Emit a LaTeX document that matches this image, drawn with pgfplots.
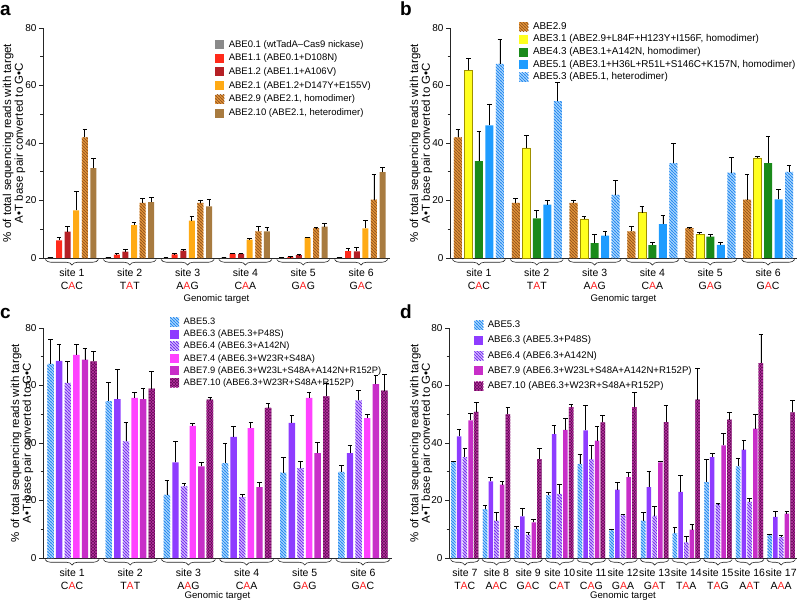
\documentclass[border=0pt]{standalone}
\usepackage{pgfplots}
\pgfplotsset{compat=1.18}
\usepackage{pgfplotstable}
\usepackage{fontspec}
\setmainfont{Liberation Sans}
\usetikzlibrary{patterns,decorations.pathreplacing}

\definecolor{seqred}{HTML}{FF2020}
\definecolor{cgrey}{HTML}{8A8A8A}
\definecolor{cred}{HTML}{FF2A1A}
\definecolor{cdred}{HTML}{B52025}
\definecolor{corange}{HTML}{FFAA14}
\definecolor{c29base}{HTML}{F0A040}
\definecolor{c29line}{HTML}{9A5A20}
\definecolor{cbrown}{HTML}{A87B40}
\definecolor{cyellow}{HTML}{FFFF1E}
\definecolor{cyeledge}{HTML}{A09000}
\definecolor{cgreen}{HTML}{1A8A1A}
\definecolor{cblue}{HTML}{1E9CFF}
\definecolor{c53base}{HTML}{C0E2FF}
\definecolor{c53line}{HTML}{2A8CF0}
\definecolor{cpurple}{HTML}{8E3CFF}
\definecolor{c64base}{HTML}{E2D2FF}
\definecolor{c64line}{HTML}{7A32F0}
\definecolor{cpink}{HTML}{FF42FF}
\definecolor{cmag}{HTML}{C82EC8}
\definecolor{c710base}{HTML}{5E0650}
\definecolor{c710line}{HTML}{B0309A}

\pgfdeclarepatternformonly{nwthick}{\pgfqpoint{-1pt}{-1pt}}{\pgfqpoint{4pt}{4pt}}{\pgfqpoint{3pt}{3pt}}{%
  \pgfsetlinewidth{0.9pt}%
  \pgfpathmoveto{\pgfqpoint{-0.5pt}{3.5pt}}\pgfpathlineto{\pgfqpoint{3.5pt}{-0.5pt}}%
  \pgfusepath{stroke}}
\pgfdeclarepatternformonly{xthick}{\pgfqpoint{-1pt}{-1pt}}{\pgfqpoint{4pt}{4pt}}{\pgfqpoint{3pt}{3pt}}{%
  \pgfsetlinewidth{0.55pt}%
  \pgfpathmoveto{\pgfqpoint{-0.5pt}{3.5pt}}\pgfpathlineto{\pgfqpoint{3.5pt}{-0.5pt}}%
  \pgfpathmoveto{\pgfqpoint{-0.5pt}{-0.5pt}}\pgfpathlineto{\pgfqpoint{3.5pt}{3.5pt}}%
  \pgfusepath{stroke}}

\newcommand{\seq}[3]{#1\textcolor{seqred}{#2}#3}

\pgfplotsset{
  sqlegend/.style={legend image code/.code={\draw[##1, draw=none] (0pt,-4.5pt) rectangle (9pt,4.5pt); \path (12.5pt,0pt);}},
  s01/.style={fill=cgrey, draw=none, sqlegend},
  s11/.style={fill=cred, draw=none, sqlegend},
  s12/.style={fill=cdred, draw=none, sqlegend},
  s21/.style={fill=corange, draw=none, sqlegend},
  s29/.style={fill=c29base, draw=none, postaction={pattern=nwthick, pattern color=c29line}, sqlegend},
  s210/.style={fill=cbrown, draw=none, sqlegend},
  s31/.style={fill=cyellow, draw=cyeledge, line width=0.5pt, sqlegend},
  s43/.style={fill=cgreen, draw=none, sqlegend},
  s51/.style={fill=cblue, draw=none, sqlegend},
  s53/.style={fill=c53base, draw=none, postaction={pattern=nwthick, pattern color=c53line}, sqlegend},
  s63/.style={fill=cpurple, draw=none, sqlegend},
  s64/.style={fill=c64base, draw=none, postaction={pattern=nwthick, pattern color=c64line}, sqlegend},
  s74/.style={fill=cpink, draw=none, sqlegend},
  s79/.style={fill=cmag, draw=none, sqlegend},
  s710/.style={fill=c710base, draw=none, postaction={pattern=xthick, pattern color=c710line}, sqlegend},
  panel/.style={
    scale only axis, height=230pt,
    ymin=0, ymax=80, ytick={0,20,40,60,80}, minor y tick num=1,
    axis x line*=bottom, axis y line*=left,
    axis line style={line width=0.7pt, black!85, -},
    tick align=outside, major tick length=4pt, minor tick length=2.5pt,
    tick style={black!85, line width=0.7pt},
    xtick style={draw=none},
    clip=false,
    /pgf/number format/assume math mode=true,
    yticklabel style={font=\fontsize{10}{12}\selectfont, xshift=1pt},
    xticklabel style={align=center, font=\fontsize{10.5}{12.8}\selectfont, inner sep=0pt, yshift=-6.5pt},
    xlabel={Genomic target},
    xlabel style={font=\fontsize{9.6}{11}\selectfont, anchor=center, inner sep=0pt},
    ylabel={\% of total sequencing reads with target\\A•T base pair converted to G•C},
    ylabel style={align=center, font=\fontsize{11.5}{10.5}\selectfont, anchor=center},
    legend cell align=left,
    legend style={draw=none, fill=none, anchor=north west, inner sep=0pt,
      nodes={inner sep=1pt, text height=7pt, text depth=2pt}},
    error bars/y dir=plus, error bars/y explicit,
    error bars/error bar style={black, line width=0.8pt},
    error bars/error mark options={black, line width=0.8pt, mark size=2.3pt, rotate=90},
  }
}

\pgfplotstableread{
x a0 e0 a1 e1 a2 e2 a3 e3 a4 e4 a5 e5
0 0.2 0 6.1 1.1 9.2 1.8 16.6 6.6 42.0 2.9 31.3 3.3
1 0.1 0 1.2 0.3 2.2 0.7 11.4 1.0 19.2 1.4 19.4 1.6
2 0.05 0 1.3 0.2 2.6 0.3 13.0 1.5 19.2 1.0 18.0 2.4
3 0.1 0 1.4 0.2 1.4 0.2 6.4 0.4 9.3 1.7 9.3 1.5
4 0.05 0 0.4 0.1 1.0 0.1 7.1 0.2 10.4 0.2 10.9 1.0
5 0.1 0 2.4 1.1 2.3 1.3 10.3 2.7 20.3 8.7 29.9 1.6
}\tabA

\pgfplotstableread{
x b0 e0 b1 e1 b2 e2 b3 e3 b4 e4
0 42.0 2.9 65.3 4.3 33.7 10.3 46.1 7.5 67.5 8.4
1 19.2 1.4 38.3 4.3 13.8 2.8 18.6 1.4 54.6 6.5
2 19.2 1.0 13.6 0.9 5.2 3.1 7.8 1.6 22.0 4.9
3 9.3 1.7 15.8 2.1 4.5 0.8 11.8 3.0 33.0 6.8
4 10.4 0.2 8.2 0.8 7.4 0.9 4.6 1.0 29.7 5.4
5 20.3 8.7 34.8 0.6 33.0 9.3 20.4 3.5 30.0 2.2
}\tabB

\pgfplotstableread{
x c0 e0 c1 e1 c2 e2 c3 e3 c4 e4 c5 e5
0 67.5 8.4 68.6 5.7 60.9 7.5 70.7 3.6 69.0 4.0 68.4 3.5
1 54.6 6.5 55.3 10.2 40.6 6.4 55.7 1.9 55.3 3.6 58.9 6.0
2 22.0 4.9 33.3 7.3 24.9 1.2 46.0 0.7 31.9 1.5 55.1 0.8
3 33.0 6.8 42.1 3.7 21.2 0.8 45.2 1.8 24.7 1.6 52.2 1.7
4 29.7 5.4 47.0 2.5 31.3 2.3 55.7 1.9 36.5 3.8 56.2 4.4
5 30.0 2.2 36.5 2.7 54.8 3.4 48.7 1.2 60.5 2.9 58.2 5.6
}\tabC

\pgfplotstableread{
x d0 e0 d1 e1 d2 e2 d3 e3 d4 e4
0 33.4 0.2 42.3 2.6 35.1 2.9 47.9 2.5 50.8 3.3
1 17.0 1.3 26.7 1.5 13.0 3.0 25.5 1.2 50.0 2.5
2 10.1 0.9 14.5 2.9 8.1 0.9 12.4 0.9 34.4 3.6
3 21.8 1.0 43.1 3.0 22.3 3.2 44.6 4.1 52.5 0.8
4 32.7 3.2 44.4 8.6 34.4 4.8 40.8 5.0 47.2 2.3
5 9.6 0.5 23.8 2.5 14.8 0.5 28.1 1.7 52.5 5.1
6 13.0 2.7 24.7 5.4 14.7 3.3 33.3 0.4 47.3 5.7
7 8.7 2.0 23.0 5.8 5.4 2.1 9.9 1.7 55.1 11.0
8 26.4 7.8 35.1 1.4 18.8 0.1 39.2 4.0 48.1 2.7
9 31.9 2.9 37.7 3.2 19.5 1.1 45.0 5.1 67.8 9.9
10 8.1 0.2 14.3 1.9 7.3 0.4 15.4 0.7 50.7 4.1
}\tabD

\begin{document}
\begin{tikzpicture}
\path[use as bounding box] (0pt,0pt) rectangle (800pt,-603pt);

% panel letters
\node[font=\bfseries\fontsize{19}{19}\selectfont, anchor=base west, inner sep=0pt] at (0pt,-15pt) {a};
\node[font=\bfseries\fontsize{19}{19}\selectfont, anchor=base west, inner sep=0pt] at (400pt,-15pt) {b};
\node[font=\bfseries\fontsize{19}{19}\selectfont, anchor=base west, inner sep=0pt] at (0pt,-318pt) {c};
\node[font=\bfseries\fontsize{19}{19}\selectfont, anchor=base west, inner sep=0pt] at (400pt,-318pt) {d};

% ---------------- panel a
\begin{axis}[panel, at={(43pt,-258pt)}, anchor=south west, width=347pt,
  ybar=2.6pt, bar width=6pt,
  xmin=-0.5, xmax=5.5, xtick={0,...,5},
  xticklabels={{site 1\\\seq{C}{A}{C}},{site 2\\\seq{T}{A}{T}},{site 3\\\seq{A}{A}{G}},{site 4\\\seq{C}{A}{A}},{site 5\\\seq{G}{A}{G}},{site 6\\\seq{G}{A}{C}}},
  xlabel style={at={(axis description cs:0.5,-0.178)}},
  ylabel style={at={(axis description cs:-0.0836,0.5)}},
  legend style={at={(0.496,0.953)}, row sep=2.7pt, font=\fontsize{9.5}{11}\selectfont},
]
\addplot[s01] table[x=x,y=a0,y error=e0]{\tabA};
\addplot[s11] table[x=x,y=a1,y error=e1]{\tabA};
\addplot[s12] table[x=x,y=a2,y error=e2]{\tabA};
\addplot[s21] table[x=x,y=a3,y error=e3]{\tabA};
\addplot[s29] table[x=x,y=a4,y error=e4]{\tabA};
\addplot[s210] table[x=x,y=a5,y error=e5]{\tabA};
\legend{ABE0.1 (wtTadA–Cas9 nickase),ABE1.1 (ABE0.1+D108N),ABE1.2 (ABE1.1+A106V),ABE2.1 (ABE1.2+D147Y+E155V),{ABE2.9 (ABE2.1, homodimer)},{ABE2.10 (ABE2.1, heterodimer)}}
\pgfplotsinvokeforeach{0,...,5}{
  \draw[decorate,decoration={brace,mirror,amplitude=5.5pt},line width=0.6pt,black!85]
    ([xshift=-26.5pt,yshift=-1.5pt]axis cs:#1,0) -- ([xshift=26.5pt,yshift=-1.5pt]axis cs:#1,0);
}
\end{axis}

% ---------------- panel b
\begin{axis}[panel, at={(450pt,-258pt)}, anchor=south west, width=347pt,
  ybar=2.5pt, bar width=8pt,
  xmin=-0.5, xmax=5.5, xtick={0,...,5},
  xticklabels={{site 1\\\seq{C}{A}{C}},{site 2\\\seq{T}{A}{T}},{site 3\\\seq{A}{A}{G}},{site 4\\\seq{C}{A}{A}},{site 5\\\seq{G}{A}{G}},{site 6\\\seq{G}{A}{C}}},
  xlabel style={at={(axis description cs:0.5,-0.178)}},
  ylabel style={at={(axis description cs:-0.0836,0.5)}},
  legend style={at={(0.199,1.030)}, row sep=1.6pt, font=\fontsize{9.9}{11}\selectfont},
]
\addplot[s29] table[x=x,y=b0,y error=e0]{\tabB};
\addplot[s31] table[x=x,y=b1,y error=e1]{\tabB};
\addplot[s43] table[x=x,y=b2,y error=e2]{\tabB};
\addplot[s51] table[x=x,y=b3,y error=e3]{\tabB};
\addplot[s53] table[x=x,y=b4,y error=e4]{\tabB};
\legend{ABE2.9,{ABE3.1 (ABE2.9+L84F+H123Y+I156F, homodimer)},{ABE4.3 (ABE3.1+A142N, homodimer)},{ABE5.1 (ABE3.1+H36L+R51L+S146C+K157N, homodimer)},{ABE5.3 (ABE5.1, heterodimer)}}
\pgfplotsinvokeforeach{0,...,5}{
  \draw[decorate,decoration={brace,mirror,amplitude=5.5pt},line width=0.6pt,black!85]
    ([xshift=-26.5pt,yshift=-1.5pt]axis cs:#1,0) -- ([xshift=26.5pt,yshift=-1.5pt]axis cs:#1,0);
}
\end{axis}

% ---------------- panel c
\begin{axis}[panel, at={(43pt,-558pt)}, anchor=south west, width=349pt,
  ybar=2.2pt, bar width=6.4pt,
  xmin=-0.5, xmax=5.5, xtick={0,...,5},
  xticklabels={{site 1\\\seq{C}{A}{C}},{site 2\\\seq{T}{A}{T}},{site 3\\\seq{A}{A}{G}},{site 4\\\seq{C}{A}{A}},{site 5\\\seq{G}{A}{G}},{site 6\\\seq{G}{A}{C}}},
  xlabel style={at={(axis description cs:0.5,-0.167)}},
  ylabel style={at={(axis description cs:-0.060,0.5)}},
  legend style={at={(0.364,1.050)}, row sep=1.1pt, font=\fontsize{9.3}{11}\selectfont},
]
\addplot[s53] table[x=x,y=c0,y error=e0]{\tabC};
\addplot[s63] table[x=x,y=c1,y error=e1]{\tabC};
\addplot[s64] table[x=x,y=c2,y error=e2]{\tabC};
\addplot[s74] table[x=x,y=c3,y error=e3]{\tabC};
\addplot[s79] table[x=x,y=c4,y error=e4]{\tabC};
\addplot[s710] table[x=x,y=c5,y error=e5]{\tabC};
\legend{ABE5.3,ABE6.3 (ABE5.3+P48S),ABE6.4 (ABE6.3+A142N),ABE7.4 (ABE6.3+W23R+S48A),ABE7.9 (ABE6.3+W23L+S48A+A142N+R152P),ABE7.10 (ABE6.3+W23R+S48A+R152P)}
\pgfplotsinvokeforeach{0,...,5}{
  \draw[decorate,decoration={brace,mirror,amplitude=5.5pt},line width=0.6pt,black!85]
    ([xshift=-27pt,yshift=-1.5pt]axis cs:#1,0) -- ([xshift=27pt,yshift=-1.5pt]axis cs:#1,0);
}
\end{axis}

% ---------------- panel d
\begin{axis}[panel, at={(449pt,-558pt)}, anchor=south west, width=348pt,
  ybar=1.2pt, bar width=4.5pt,
  xmin=-0.5, xmax=10.5, xtick={0,...,10},
  xticklabels={{site 7\\\seq{T}{A}{C}},{site 8\\\seq{A}{A}{C}},{site 9\\\seq{G}{A}{C}},{site 10\\\seq{C}{A}{T}},{site 11\\\seq{C}{A}{G}},{site 12\\\seq{G}{A}{A}},{site 13\\\seq{G}{A}{T}},{site 14\\\seq{T}{A}{A}},{site 15\\\seq{T}{A}{G}},{site 16\\\seq{A}{A}{T}},{site 17\\\seq{A}{A}{A}}},
  xlabel style={at={(axis description cs:0.5,-0.167)}},
  ylabel style={at={(axis description cs:-0.080,0.5)}},
  legend style={at={(0.072,1.037)}, row sep=4.2pt, font=\fontsize{9.6}{11}\selectfont},
]
\addplot[s53] table[x=x,y=d0,y error=e0]{\tabD};
\addplot[s63] table[x=x,y=d1,y error=e1]{\tabD};
\addplot[s64] table[x=x,y=d2,y error=e2]{\tabD};
\addplot[s79] table[x=x,y=d3,y error=e3]{\tabD};
\addplot[s710] table[x=x,y=d4,y error=e4]{\tabD};
\legend{ABE5.3,ABE6.3 (ABE5.3+P48S),ABE6.4 (ABE6.3+A142N),ABE7.9 (ABE6.3+W23L+S48A+A142N+R152P),ABE7.10 (ABE6.3+W23R+S48A+R152P)}
\pgfplotsinvokeforeach{0,...,10}{
  \draw[decorate,decoration={brace,mirror,amplitude=5.5pt},line width=0.6pt,black!85]
    ([xshift=-14.3pt,yshift=-1.5pt]axis cs:#1,0) -- ([xshift=14.3pt,yshift=-1.5pt]axis cs:#1,0);
}
\end{axis}
\end{tikzpicture}
\end{document}
